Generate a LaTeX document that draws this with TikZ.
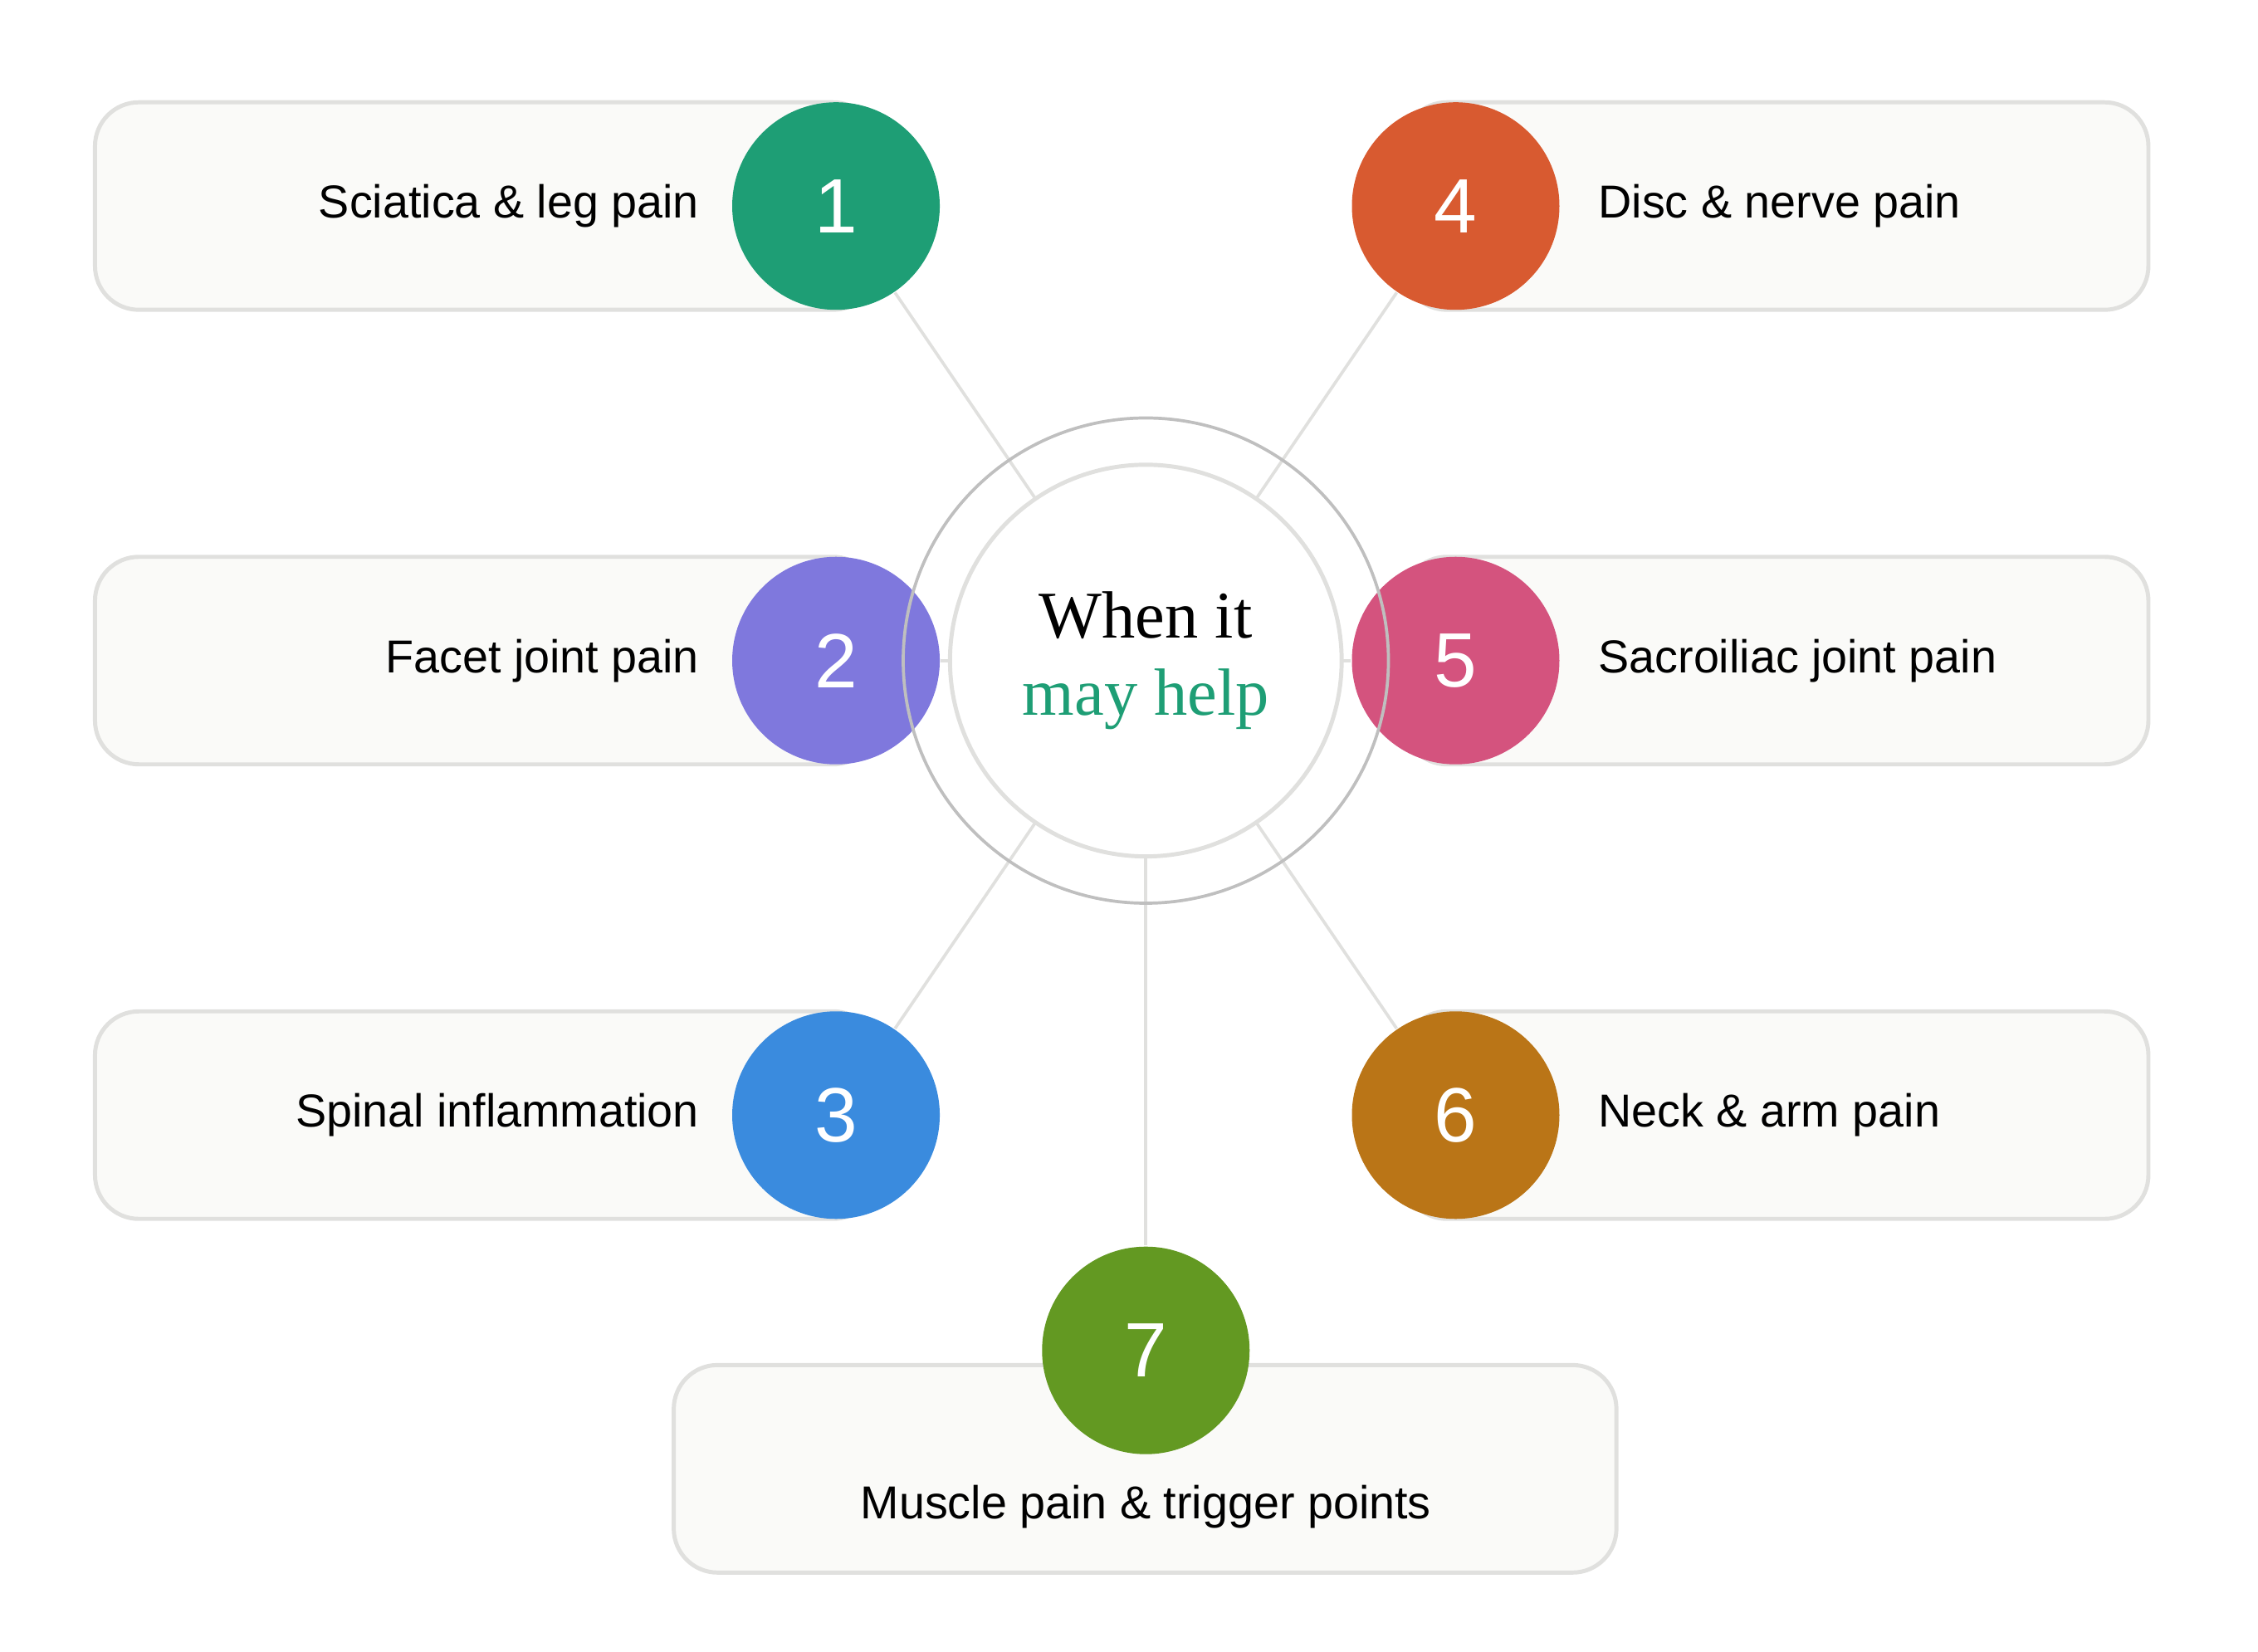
\documentclass[tikz,border=0pt]{standalone}
\usepackage{fontspec}
\setmainfont{Liberation Sans}
\newfontfamily\headfont{Liberation Serif}
\definecolor{cOne}{HTML}{1E9E75}
\definecolor{cTwo}{HTML}{7F78DD}
\definecolor{cThree}{HTML}{3A8BDE}
\definecolor{cFour}{HTML}{D85A30}
\definecolor{cFive}{HTML}{D4537E}
\definecolor{cSix}{HTML}{BA7517}
\definecolor{cSeven}{HTML}{639922}
\definecolor{boxfill}{HTML}{FAFAF8}
\definecolor{boxline}{HTML}{E0E0DE}
\tikzset{
	card/.style={draw=boxline, fill=boxfill, line width=0.8pt, rounded corners=0.3cm},
	num/.style={circle, minimum size=1.42cm, inner sep=0pt, text=white, font=\fontsize{15}{15}\selectfont},
	lbl/.style={font=\fontsize{9}{11}\selectfont, inner sep=0pt},
	spoke/.style={draw=boxline, line width=0.6pt}
}
\begin{document}
\begin{tikzpicture}
	\useasboundingbox (0, 0) rectangle (15.45, -11.30);
	% spokes
	\coordinate (c) at (7.84, -4.52);
	\node[num] (n1) at (5.72, -1.41) {};
	\node[num] (n2) at (5.72, -4.52) {};
	\node[num] (n3) at (5.72, -7.63) {};
	\node[num] (n4) at (9.96, -1.41) {};
	\node[num] (n5) at (9.96, -4.52) {};
	\node[num] (n6) at (9.96, -7.63) {};
	\node[num] (n7) at (7.84, -9.24) {};
	\foreach \n in {n1, n2, n3, n4, n5, n6, n7}
		\draw[spoke] (c) -- (\n);
	% cards
	\draw[card](0.65, -0.70) rectangle (6.00, -2.12);
	\draw[card](0.65, -3.81) rectangle (6.00, -5.23);
	\draw[card](0.65, -6.92) rectangle (6.00, -8.34);
	\draw[card](9.60, -0.70) rectangle (14.70, -2.12);
	\draw[card](9.60, -3.81) rectangle (14.70, -5.23);
	\draw[card](9.60, -6.92) rectangle (14.70, -8.34);
	\draw[card](4.61, -9.34) rectangle (11.06, -10.76);
	% numbered circles
	\node[num, fill=cOne] at (n1) {1};
	\node[num, fill=cTwo] at (n2) {2};
	\node[num, fill=cThree] at (n3) {3};
	\node[num, fill=cFour] at (n4) {4};
	\node[num, fill=cFive] at (n5) {5};
	\node[num, fill=cSix] at (n6) {6};
	\node[num, fill=cSeven] at (n7) {7};
	% labels
	\node[lbl, anchor=east] (t1) at (4.79, -1.41) {Sciatica \& leg pain};
	\node[lbl, anchor=east] (t2) at (4.79, -4.52) {Facet joint pain};
	\node[lbl, anchor=east] (t3) at (4.79, -7.63) {Spinal inflammation};
	\node[lbl, anchor=west] (t4) at (10.93, -1.41) {Disc \& nerve pain};
	\node[lbl, anchor=west] (t5) at (10.93, -4.52) {Sacroiliac joint pain};
	\node[lbl, anchor=west] (t6) at (10.93, -7.63) {Neck \& arm pain};
	\node[lbl] (t7) at (7.84, -10.31) {Muscle pain \& trigger points};
	% hub
	\draw[black!25, line width=0.6pt] (c) circle (1.66);
	\node[circle, draw=boxline, fill=white, line width=0.8pt, minimum size=2.68cm, align=center,
		font=\headfont\fontsize{13}{16}\selectfont] (hub) at (c) {When it\\[-1pt]\textcolor{cOne}{may help}};
\end{tikzpicture}
\end{document}
